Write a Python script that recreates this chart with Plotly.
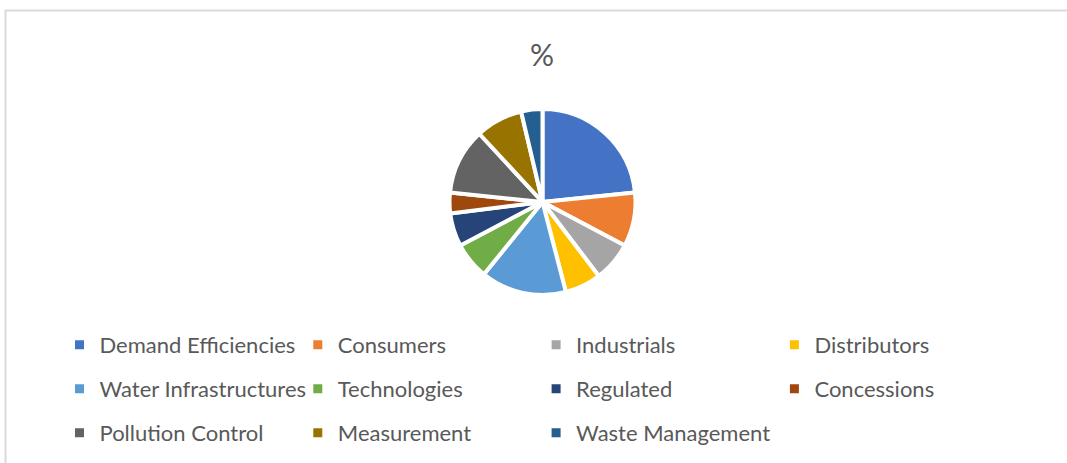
import plotly.graph_objects as go

categories = ["Demand Efficiencies", "Consumers", "Industrials", "Distributors",
              "Water Infrastructures", "Technologies", "Regulated", "Concessions",
              "Pollution Control", "Measurement", "Waste Management"]
values = [23.4, 9.4, 6.9, 6.3, 14.9, 6.4, 5.8, 3.6, 11.5, 8.2, 3.7]
colors = ["#4472C4", "#ED7D31", "#A5A5A5", "#FFC000", "#5B9BD5", "#70AD47",
          "#264478", "#9E480E", "#636363", "#997300", "#255E91"]
title_text = "%"

W, H = 1067, 463
FONT = "Lato, Calibri, Carlito, sans-serif"
TXT = "#595959"

fig = go.Figure()

cx, cy, r = 542.5, 202, 93
fig.add_trace(go.Pie(
    labels=categories, values=values, sort=False, direction="clockwise", rotation=0,
    marker=dict(colors=colors, line=dict(color="white", width=4)),
    textinfo="none", showlegend=False,
    domain=dict(x=[(cx - r) / W, (cx + r) / W], y=[1 - (cy + r) / H, 1 - (cy - r) / H]),
))

# legend entries (4 per row)
row_y = [345, 389, 433]
legend_names = ["legend", "legend2", "legend3"]
for i, (name, col) in enumerate(zip(categories, colors)):
    fig.add_trace(go.Scatter(
        x=[None], y=[None], mode="markers", name=name,
        marker=dict(symbol="square", size=9, color=col),
        legend=legend_names[i // 4], hoverinfo="skip",
    ))

leg_common = dict(orientation="h", x=59.5 / W, xanchor="left", yanchor="middle",
                  entrywidth=193.3, entrywidthmode="pixels",
                  font=dict(family=FONT, size=22, color=TXT),
                  bgcolor="rgba(0,0,0,0)", itemclick=False, itemdoubleclick=False)

layout_legends = {}
for k, ln in enumerate(legend_names):
    layout_legends[ln] = dict(leg_common, y=1 - row_y[k] / H)

fig.update_layout(
    width=W, height=H, margin=dict(l=0, r=0, t=0, b=0),
    paper_bgcolor="white", plot_bgcolor="white",
    xaxis=dict(visible=False), yaxis=dict(visible=False),
    title=dict(text=title_text, x=542 / W, xanchor="center", y=1 - 55 / H, yanchor="middle",
               font=dict(family=FONT, size=30, color=TXT)),
    shapes=[dict(type="rect", xref="paper", yref="paper",
                 x0=5.5 / W, x1=1.02, y0=-0.05, y1=1 - 10.5 / H,
                 line=dict(color="#D9D9D9", width=2), fillcolor="rgba(0,0,0,0)", layer="below")],
    **layout_legends,
)

fig.write_html("out.html", config={"displayModeBar": False},
               post_script="document.body.style.margin='0px';document.body.style.overflow='hidden';")
